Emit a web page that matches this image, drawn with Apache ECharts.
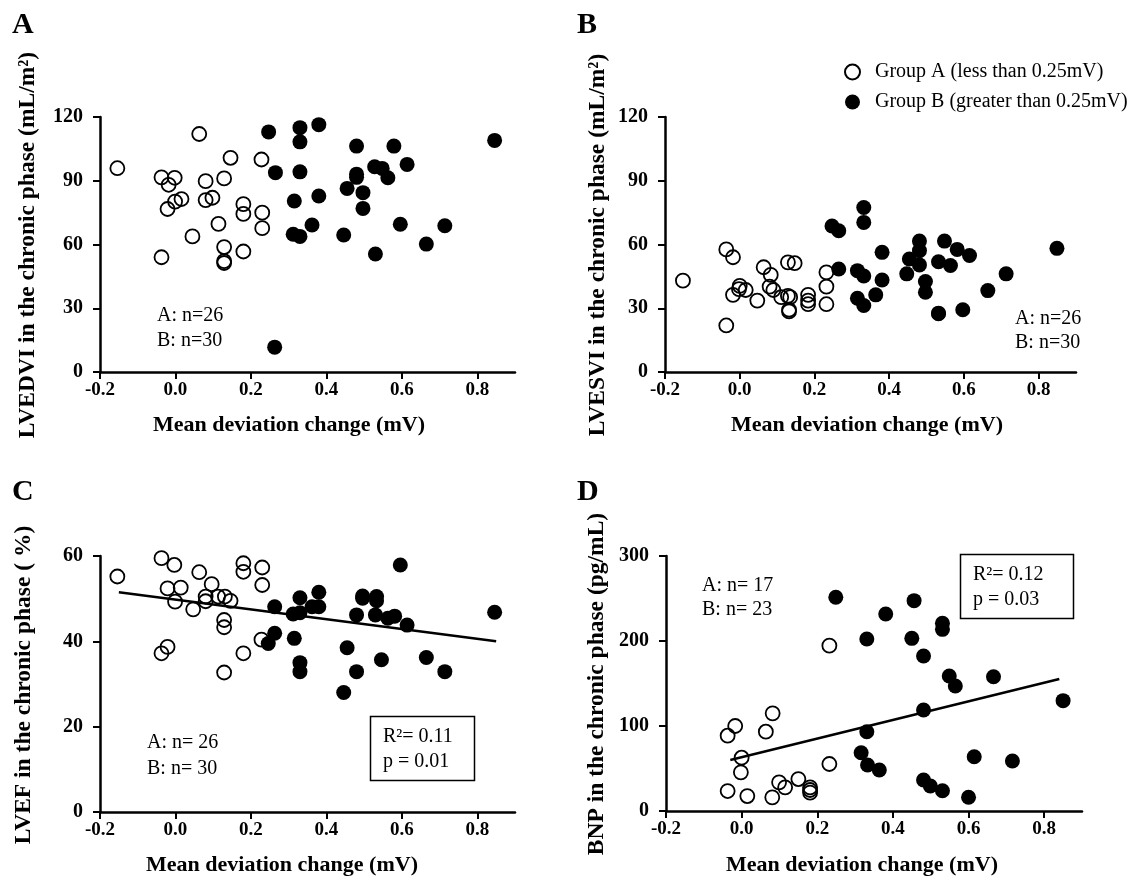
<!DOCTYPE html>
<html><head><meta charset="utf-8">
<script src="https://cdn.jsdelivr.net/npm/echarts@6/dist/echarts.min.js"></script>
<style>html,body{margin:0;padding:0;background:#fff}#c{width:1148px;height:880px}</style>
</head><body><div id="c"></div>
<script>
const FONT = '"Liberation Serif","Times New Roman",Times,serif';
const xTicks = [-0.2, 0, 0.2, 0.4, 0.6, 0.8];
const nameA = 'Group A (less than 0.25mV)';
const nameB = 'Group B (greater than 0.25mV)';

// Panel A: LVEDVI
const groupA_LVEDVI = [[-0.154,95.9],[-0.037,91.6],[-0.002,91.4],[-0.018,88.1],[0.063,112],[0.08,89.8],[0.146,100.8],[0.129,91.1],[0.228,100],[-0.021,76.7],[-0.001,80.2],[0.016,81.4],[0.08,80.9],[0.098,82],[0.114,69.7],[0.045,63.8],[0.18,79],[0.18,74.4],[0.23,75],[0.23,67.7],[-0.037,54],[0.129,58.8],[0.129,52.2],[0.129,51.3],[0.18,56.7]];
const groupB_LVEDVI = [[0.247,113],[0.33,115],[0.33,108.3],[0.38,116.4],[0.265,93.8],[0.33,94.2],[0.48,106.3],[0.579,106.3],[0.846,109],[0.528,96.6],[0.548,95.8],[0.614,97.7],[0.48,93.1],[0.48,91.6],[0.563,91.4],[0.455,86.4],[0.497,84.4],[0.497,77],[0.315,80.5],[0.38,82.8],[0.362,69.2],[0.312,64.8],[0.33,63.8],[0.446,64.5],[0.596,69.5],[0.714,68.8],[0.665,60.2],[0.53,55.5],[0.263,11.7]];

// Panel B: LVESVI
const groupA_LVESVI = [[-0.152,43],[-0.036,57.7],[-0.018,54],[0.064,49.3],[0.083,45.7],[0.129,51.6],[0.147,51.2],[0.232,46.9],[0.232,40.2],[0.232,31.9],[-0.018,36.3],[0.0,40.5],[0.016,38.6],[-0.002,39],[0.047,33.6],[0.08,40.2],[0.09,38.6],[0.111,35.2],[0.129,35.8],[0.135,35.2],[0.132,28.5],[0.132,29.3],[0.183,36.3],[0.183,33.6],[0.183,31.9],[-0.036,21.9]];
const groupB_LVESVI = [[0.247,68.7],[0.265,66.5],[0.332,77.4],[0.332,70.4],[0.265,48.5],[0.315,47.7],[0.332,45.2],[0.315,34.7],[0.332,31.3],[0.364,36.3],[0.381,56.3],[0.381,43.3],[0.481,61.6],[0.481,57.1],[0.454,53.2],[0.481,50.4],[0.447,46.2],[0.497,42.6],[0.497,37.5],[0.532,51.9],[0.548,61.6],[0.564,50.1],[0.582,57.7],[0.615,54.8],[0.532,27.7],[0.532,27.4],[0.597,29.3],[0.664,38.3],[0.713,46.2],[0.849,58.2]];

// Panel C: LVEF
const groupA_LVEF = [[-0.154,55.2],[-0.037,59.5],[-0.003,57.9],[-0.021,52.4],[0.014,52.6],[-0.001,49.3],[0.047,47.5],[0.063,56.2],[0.096,53.4],[0.08,50.5],[0.08,49.4],[0.113,50.5],[0.131,50.5],[0.146,49.5],[0.129,45],[0.129,43.3],[0.18,58.3],[0.18,56.3],[0.23,57.3],[0.23,53.2],[0.228,40.4],[-0.037,37.2],[-0.021,38.7],[0.18,37.2],[0.129,32.7]];
const groupB_LVEF = [[0.263,48.1],[0.33,50.2],[0.312,46.4],[0.33,46.7],[0.362,48.1],[0.38,51.5],[0.38,48.1],[0.263,41.9],[0.246,39.5],[0.315,40.7],[0.33,35],[0.33,32.9],[0.48,46.2],[0.496,50.6],[0.496,50.1],[0.533,50.5],[0.533,49.5],[0.53,46.2],[0.563,45.4],[0.581,45.9],[0.614,43.8],[0.596,57.9],[0.846,46.8],[0.455,38.5],[0.48,32.9],[0.446,28],[0.546,35.7],[0.665,36.2],[0.714,32.9]];
const fitLine_LVEF = [[-0.15,51.5],[0.85,40.0]];

// Panel D: BNP
const groupA_BNP = [[-0.037,23.5],[-0.037,88.6],[-0.017,100],[0.0,62.7],[-0.002,45.5],[0.015,17.6],[0.064,93.3],[0.082,114.9],[0.081,16.1],[0.099,33.7],[0.115,27.8],[0.15,37.6],[0.181,27.8],[0.181,21.6],[0.181,24.7],[0.232,194.5],[0.232,55.3]];
const groupB_BNP = [[0.249,251.4],[0.331,202.4],[0.381,231.8],[0.456,247.5],[0.45,203.1],[0.531,220.8],[0.531,213.7],[0.481,182.4],[0.549,158.8],[0.565,147.1],[0.666,158],[0.85,129.8],[0.481,118.8],[0.331,93.3],[0.316,68.6],[0.333,54.1],[0.364,48.2],[0.481,36.5],[0.499,29.4],[0.531,23.9],[0.6,16.1],[0.615,63.9],[0.716,58.8]];
const fitLine_BNP = [[-0.03,60],[0.84,155.3]];

const yMax = [120, 120, 60, 300];
const yInterval = [30, 30, 20, 100];

const grids = [
  {left:100, top:117, width:415, height:255},
  {left:665, top:117, width:411, height:255},
  {left:100, top:556, width:415, height:256},
  {left:666, top:556, width:416, height:255}
];

const xAxes = grids.map((g,i)=>({
  type:'value', gridIndex:i, min:-0.2, max:0.9,
  axisLine:{show:true, onZero:false, lineStyle:{color:'#000', width:2.5}},
  axisTick:{show:true, customValues:xTicks, length:7, lineStyle:{color:'#000', width:2}},
  axisLabel:{customValues:xTicks, formatter:v=>Number(v).toFixed(1), fontFamily:FONT, fontWeight:'bold', fontSize:19, color:'#000', margin:9},
  splitLine:{show:false}
}));
const yAxes = grids.map((g,i)=>({
  type:'value', gridIndex:i, min:0, max:yMax[i], interval:yInterval[i],
  axisLine:{show:true, onZero:false, lineStyle:{color:'#000', width:2.5}},
  axisTick:{show:true, length:7, lineStyle:{color:'#000', width:2}},
  axisLabel:{fontFamily:FONT, fontWeight:'bold', fontSize:20, color:'#000', margin:17},
  splitLine:{show:false}
}));

function openSeries(data, i){
  return {name:nameA, type:'scatter', xAxisIndex:i, yAxisIndex:i, data, symbol:'circle', symbolSize:14,
    itemStyle:{color:'rgba(255,255,255,0)', borderColor:'#000', borderWidth:1.8, opacity:1}, z:3};
}
function filledSeries(data, i){
  return {name:nameB, type:'scatter', xAxisIndex:i, yAxisIndex:i, data, symbol:'circle', symbolSize:15,
    itemStyle:{color:'#000', opacity:1}, z:2};
}
function fitSeries(data, i){
  return {type:'line', xAxisIndex:i, yAxisIndex:i, data, showSymbol:false, symbol:'none',
    lineStyle:{color:'#000', width:2.5}, z:4, silent:true};
}

const series = [
  openSeries(groupA_LVEDVI,0), filledSeries(groupB_LVEDVI,0),
  openSeries(groupA_LVESVI,1), filledSeries(groupB_LVESVI,1),
  openSeries(groupA_LVEF,2), filledSeries(groupB_LVEF,2), fitSeries(fitLine_LVEF,2),
  openSeries(groupA_BNP,3), filledSeries(groupB_BNP,3), fitSeries(fitLine_BNP,3)
];

function txt(text, x, y, opt){
  return {type:'text', x, y, style:Object.assign({text, fill:'#000', font:'20px '+FONT, align:'left', verticalAlign:'middle'}, opt||{})};
}
function boldTxt(text, x, y, size, extra){
  return txt(text, x, y, Object.assign({font:'bold '+size+'px '+FONT}, extra||{}));
}
function yTitle(text, x, y){
  return {type:'text', x, y, rotation:Math.PI/2, style:{text, fill:'#000', font:'bold 23.5px '+FONT, align:'center', verticalAlign:'middle'}};
}

const graphic = [
  boldTxt('A', 12, 25, 30), boldTxt('B', 577, 25, 30), boldTxt('C', 12, 492, 30), boldTxt('D', 577, 492, 30),
  yTitle('LVEDVI in the chronic phase (mL/m²)', 28, 245),
  yTitle('LVESVI in the chronic phase (mL/m²)', 598, 245),
  yTitle('LVEF in the chronic phase ( %)', 24, 685),
  yTitle('BNP in the chronic phase (pg/mL)', 597, 684),
  boldTxt('Mean deviation change (mV)', 289, 425, 22, {align:'center'}),
  boldTxt('Mean deviation change (mV)', 867, 425, 22, {align:'center'}),
  boldTxt('Mean deviation change (mV)', 282, 865, 22, {align:'center'}),
  boldTxt('Mean deviation change (mV)', 862, 865, 22, {align:'center'}),
  txt('A: n=26', 157, 316), txt('B: n=30', 157, 341),
  txt('A: n=26', 1015, 319), txt('B: n=30', 1015, 343),
  txt('A: n= 26', 147, 743), txt('B: n= 30', 147, 769),
  txt('A: n= 17', 702, 586), txt('B: n= 23', 702, 610),
  {type:'rect', shape:{x:370.5, y:716.5, width:104, height:64}, style:{fill:'none', stroke:'#000', lineWidth:1.5}},
  txt('R²= 0.11', 383, 737), txt('p = 0.01', 383, 762),
  {type:'rect', shape:{x:960.5, y:554.5, width:113, height:64}, style:{fill:'none', stroke:'#000', lineWidth:1.5}},
  txt('R²= 0.12', 973, 575), txt('p = 0.03', 973, 600)
];

const chart = echarts.init(document.getElementById('c'), null, {renderer:'canvas'});
chart.setOption({
  animation:false,
  backgroundColor:'#fff',
  grid:grids,
  xAxis:xAxes,
  yAxis:yAxes,
  legend:{
    data:[nameA, nameB], orient:'vertical', left:839, top:57, itemWidth:15, itemHeight:15, itemGap:10,
    textStyle:{fontFamily:FONT, fontSize:20, color:'#000', padding:[0,0,0,10]}
  },
  series,
  graphic
});
</script></body></html>
